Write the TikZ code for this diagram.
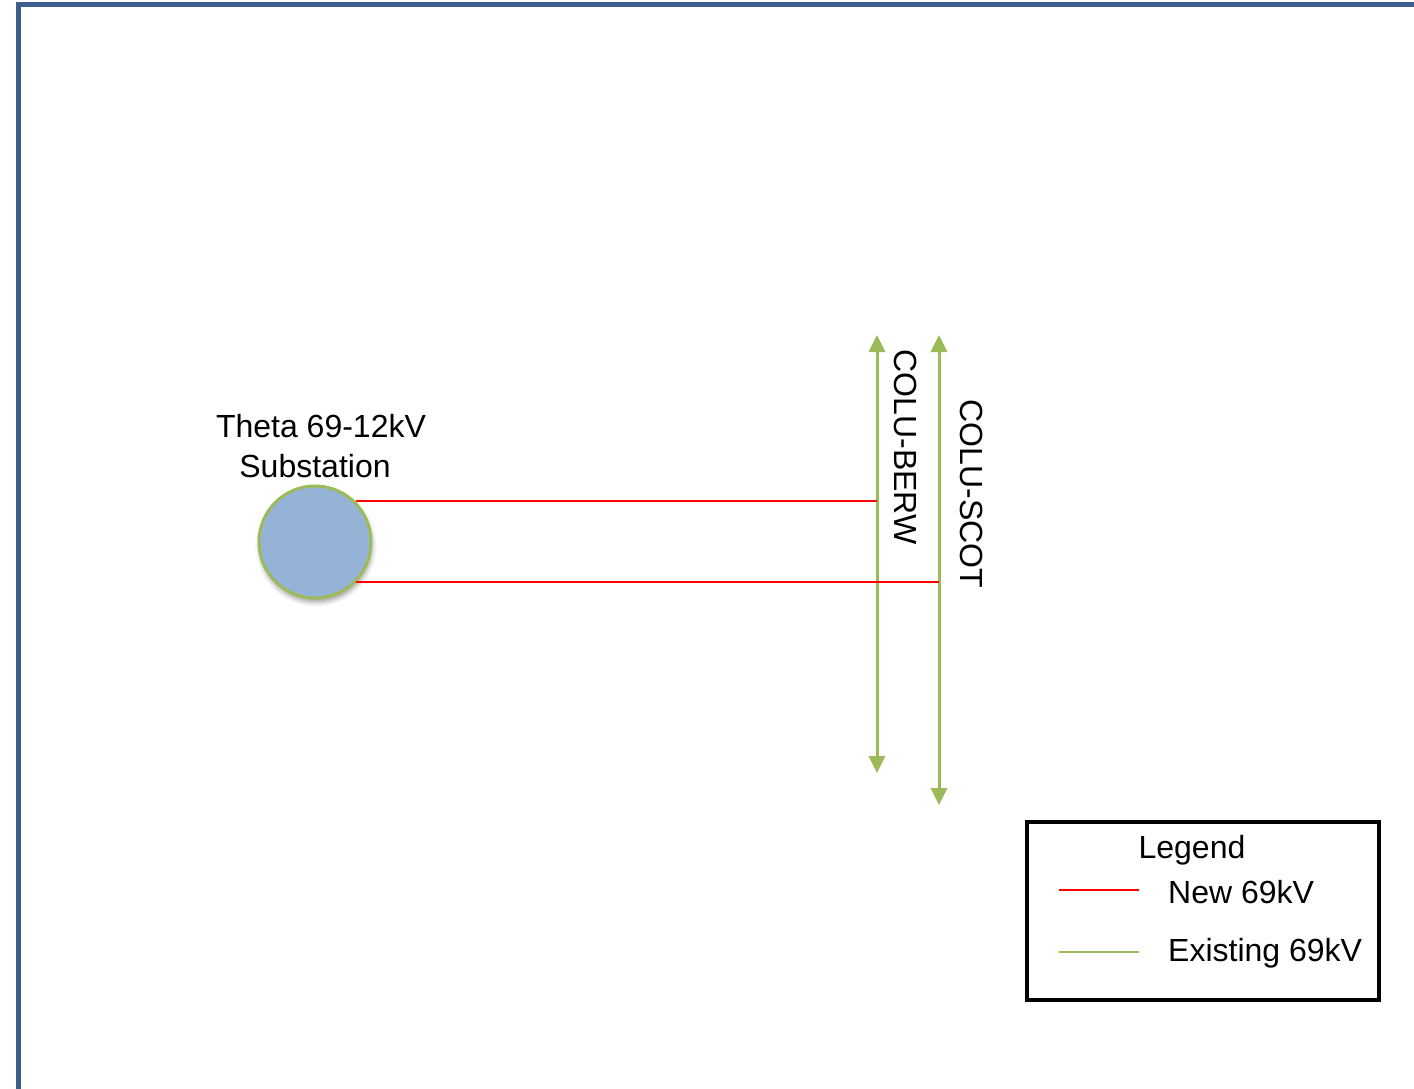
\documentclass[tikz,border=0pt]{standalone}
\usepackage{fontspec}
\setmainfont{Liberation Sans}
\usetikzlibrary{arrows.meta,shadows.blur}
\definecolor{framec}{HTML}{3B5E8C}
\definecolor{subfill}{HTML}{95B3D7}
\definecolor{grn}{HTML}{9BBB59}
\tikzset{
  frameline/.style={draw=framec,line width=5pt},
  newline/.style={draw=red,line width=2pt},
  oldline/.style={draw=grn,line width=3pt,{Triangle[width=16pt,length=17pt]}-{Triangle[width=16pt,length=17pt]}},
  legline/.style={line width=2pt},
  lbl/.style={font=\fontsize{32}{38}\selectfont,inner sep=0pt},
  subst/.style={circle,fill=subfill,draw=grn,line width=3pt,minimum size=112pt,inner sep=0pt,
    blur shadow={shadow xshift=1pt,shadow yshift=-4pt,shadow blur radius=5pt,shadow opacity=40}},
}
\begin{document}
\begin{tikzpicture}[x=1pt,y=-1pt]
\useasboundingbox (0,0) rectangle (1414,1089);
\draw[frameline] (18,1089) -- (18,5) -- (1414,5);
% substation
\node[subst] (c) at (315,542) {};
\node[lbl] (t) at (321,426) {Theta 69-12kV};
\node[lbl] (t2) at (315,466) {Substation};
% existing lines
\coordinate (b1) at (877,335);
\coordinate (b2) at (877,773);
\coordinate (s1) at (939,335);
\coordinate (s2) at (939,805);
\draw[oldline] (b1) -- (b2);
\draw[oldline] (s1) -- (s2);
\node[lbl,rotate=-90] (lb) at (906,447) {COLU-BERW};
\node[lbl,rotate=-90] (ls) at (972,494) {COLU-SCOT};
% new lines
\draw[newline] (c.45) -- (c.45 -| b1);
\draw[newline] (c.-44) -- (c.-44 -| s1);
% legend
\node[draw=black,line width=4pt,minimum width=352pt,minimum height=178pt,inner sep=0pt] (leg) at (1203,911) {};
\node[lbl] (lt) at (1192,850) {Legend};
\coordinate (r1) at (1059,890);
\coordinate (r2) at (1139,890);
\coordinate (g1) at (1059,952);
\coordinate (g2) at (1139,952);
\draw[legline,draw=red] (r1) -- (r2);
\draw[legline,draw=grn] (g1) -- (g2);
\node[lbl,anchor=west] (ln) at (1168,892) {New 69kV};
\node[lbl,anchor=west] (le) at (1168,953) {Existing 69kV};
\end{tikzpicture}
\end{document}
